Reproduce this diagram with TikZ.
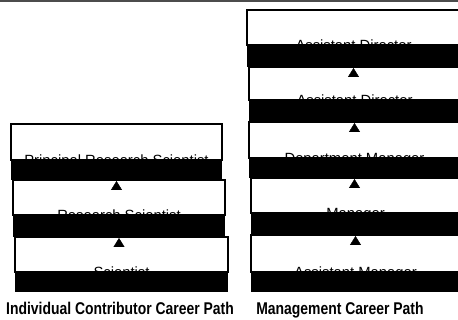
\documentclass[tikz,border=0pt]{standalone}
\usepackage{fontspec}
\setmainfont{Liberation Sans}
\newfontfamily\narrowsans[FakeStretch=0.82]{Liberation Sans}
\usetikzlibrary{arrows.meta, positioning}

\begin{document}
\begin{tikzpicture}[x=1pt, y=-1pt,
  stage/.style={draw, line width=1.2pt, fill=white, inner sep=0pt, outer sep=0pt},
  bar/.style={fill=black, inner sep=0pt, outer sep=0pt},
  title/.style={font=\fontsize{14.8}{16}\selectfont, anchor=base, inner sep=0pt},
  pathlabel/.style={font=\narrowsans\bfseries\fontsize{17}{19}\selectfont, anchor=base, inner sep=0pt},
  up/.style={-{Triangle[length=9pt, width=11pt]}, line width=0.4pt}]
\useasboundingbox (0,0) rectangle (458,320);
\draw[black!70, line width=1.5pt] (0,0.8)--(458,0.8);

% individual contributor ladder
\node[stage, minimum width=211pt, minimum height=36pt] (prs) at (116.5,142) {};
\node[title] (prs-t) at ([yshift=-5.5pt]prs.south) {Principal Research Scientist};
\node[bar, minimum width=211pt, minimum height=20pt, below=0pt of prs] (prs-b) {};
\node[stage, minimum width=212pt, minimum height=35pt, below=0pt of prs-b, xshift=2.5pt] (rs) {};
\node[title] (rs-t) at ([yshift=-5.5pt]rs.south) {Research Scientist};
\node[bar, minimum width=212pt, minimum height=22pt, below=0pt of rs] (rs-b) {};
\node[stage, minimum width=213pt, minimum height=35pt, below=0pt of rs-b, xshift=2.5pt] (sc) {};
\node[title] (sc-t) at ([yshift=-5.5pt]sc.south) {Scientist};
\node[bar, minimum width=213pt, minimum height=20pt, below=0pt of sc] (sc-b) {};
\draw[up] ([yshift=-4pt]prs-b.south) -- ([yshift=-1pt]prs-b.south);
\draw[up] ([yshift=-4pt]rs-b.south) -- ([yshift=-1pt]rs-b.south);
\node[pathlabel] (ic) at (120,314.5) {Individual Contributor Career Path};

% management ladder
\node[stage, minimum width=213pt, minimum height=35pt] (ad1) at (353.5,27.5) {};
\node[title] (ad1-t) at ([yshift=-5.5pt]ad1.south) {Assistant Director};
\node[bar, minimum width=213pt, minimum height=22pt, below=0pt of ad1] (ad1-b) {};
\node[stage, minimum width=211pt, minimum height=33pt, below=0pt of ad1-b, xshift=1pt] (ad2) {};
\node[title] (ad2-t) at ([yshift=-5.5pt]ad2.south) {Assistant Director};
\node[bar, minimum width=211pt, minimum height=22pt, below=0pt of ad2] (ad2-b) {};
\node[stage, minimum width=211pt, minimum height=36pt, below=0pt of ad2-b] (dm) {};
\node[title] (dm-t) at ([yshift=-5.5pt]dm.south) {Department Manager};
\node[bar, minimum width=211pt, minimum height=20pt, below=0pt of dm] (dm-b) {};
\node[stage, minimum width=209pt, minimum height=35pt, below=0pt of dm-b, xshift=1pt] (mg) {};
\node[title] (mg-t) at ([yshift=-5.5pt]mg.south) {Manager};
\node[bar, minimum width=209pt, minimum height=22pt, below=0pt of mg] (mg-b) {};
\node[stage, minimum width=209pt, minimum height=37pt, below=0pt of mg-b] (am) {};
\node[title] (am-t) at ([yshift=-5.5pt]am.south) {Assistant Manager};
\node[bar, minimum width=209pt, minimum height=20pt, below=0pt of am] (am-b) {};
\foreach \n in {ad1-b, ad2-b, dm-b, mg-b}
  \draw[up] ([yshift=-4pt]\n.south) -- ([yshift=-1pt]\n.south);
\node[pathlabel] (mp) at (340,315) {Management Career Path};
\end{tikzpicture}
\end{document}
